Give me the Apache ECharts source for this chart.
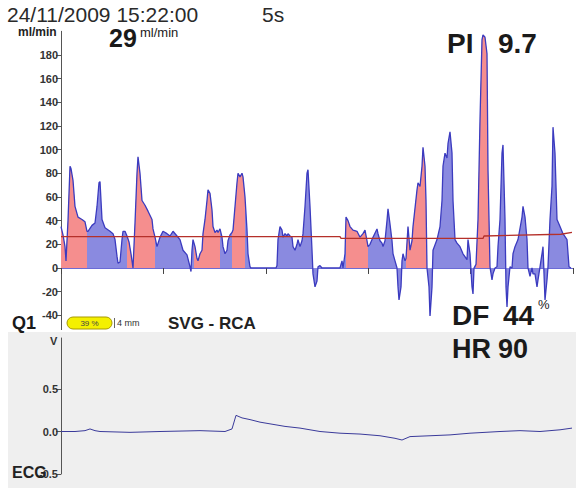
<!DOCTYPE html>
<html>
<head>
<meta charset="utf-8">
<script src="https://cdn.jsdelivr.net/npm/echarts@6/dist/echarts.min.js"></script>
<style>
  html, body { margin: 0; padding: 0; background: #fff; }
  #chart { width: 576px; height: 488px; }
</style>
</head>
<body>
<div id="chart"></div>
<script>
// flow samples (sample index at ~102.4 Hz, 5 s window) and flow in ml/min
const flowT = [
  0, 2, 4, 5, 7, 9, 10, 12, 14, 17,
  21, 24, 26, 27, 31, 34, 36, 38, 39, 41,
  44, 49, 52, 54, 56, 57, 59, 61, 62, 64,
  66, 68, 70, 72, 74, 76, 77, 79, 81, 84,
  87, 91, 92, 94, 96, 99, 102, 106, 109, 112,
  116, 119, 122, 126, 129, 130, 131, 132, 133, 134,
  136, 137, 139, 141, 142, 144, 146, 147, 149, 151,
  152, 154, 156, 157, 159, 161, 162, 164, 166, 167,
  169, 171, 172, 174, 176, 177, 179, 181, 182, 184,
  186, 187, 189, 190, 215, 216, 217, 219, 221, 222,
  224, 226, 227, 229, 231, 232, 234, 236, 237, 239,
  241, 242, 244, 246, 247, 249, 251, 252, 254, 256,
  257, 259, 261, 279, 281, 282, 284, 285, 287, 289,
  292, 296, 299, 302, 304, 306, 307, 309, 312, 316,
  317, 319, 321, 322, 324, 326, 327, 329, 331, 332,
  334, 336, 337, 338, 340, 341, 342, 344, 345, 347,
  349, 351, 352, 356, 357, 359, 361, 362, 364, 365,
  366, 368, 369, 371, 372, 376, 379, 381, 382, 384,
  386, 387, 389, 391, 392, 394, 396, 399, 402, 406,
  407, 409, 411, 412, 413, 415, 417, 419, 421, 422,
  424, 426, 427, 429, 431, 432, 434, 436, 437, 439,
  441, 442, 444, 445, 446, 447, 449, 451, 452, 454,
  457, 461, 462, 464, 466, 467, 469, 471, 472, 474,
  476, 477, 479, 481, 482, 484, 486, 487, 489, 491,
  492, 494, 496, 499, 502, 506, 508, 510
];
const flowV = [
  35, 28, 18, 6, 40, 86, 84, 74, 52, 43,
  41, 39, 31, 31, 36, 38, 52, 72, 73, 41,
  34, 31, 29, 24, 10, 4, 5, 24, 31, 31,
  27, 22, 12, 0, 38, 80, 94, 80, 57, 53,
  48, 41, 33, 26, 18, 26, 31, 29, 27, 31,
  27, 24, 15, 11, 1, -3, 15, 24, 21, 18,
  8, 6, 12, 15, 29, 41, 57, 66, 63, 49,
  35, 30, 32, 30, 33, 26, 18, 12, 15, 23,
  28, 30, 32, 52, 72, 80, 77, 80, 77, 60,
  32, 12, 1, 0, 0, 2, 24, 35, 32, 26,
  29, 27, 29, 27, 26, 18, 15, 20, 24, 18,
  23, 29, 52, 80, 83, 52, 15, -5, -16, -11,
  1, 2, 0, 0, 6, 0, 12, 43, 40, 35,
  32, 31, 26, 29, 32, 23, 18, 20, 26, 33,
  29, 23, 21, 18, 23, 40, 50, 37, 23, 12,
  6, 0, -16, -27, -16, 6, 12, 6, 8, 35,
  15, 23, 35, 66, 72, 69, 86, 102, 86, 57,
  0, -16, -41, -16, 15, 24, 35, 57, 86, 97,
  93, 105, 115, 97, 57, 24, 21, 18, 12, 7,
  24, 12, -16, -22, 0, 3, 41, 125, 193, 197,
  195, 181, 83, 1, -10, -5, 0, 1, 18, 41,
  97, 104, 41, -16, -33, -16, 1, 0, 12, 18,
  24, 43, 52, 43, 24, 0, -7, 0, -5, -5,
  -16, -10, 1, 12, 18, -27, -10, 1, 41, 69,
  119, 97, 41, 35, 29, 24, 1, 0
];
// stretches of the flow curve shaded red
const redRanges = [[0, 26], [66, 94], [133, 159], [171, 184], [285, 307], [345, 366], [415, 429]];

// mean flow line
const meanT = [0, 279, 280, 422, 423, 500, 511];
const meanV = [26.5, 26.5, 25, 25, 27, 28.5, 30];

// ECG trace (V)
const ecgT = [0, 14, 24, 29, 34, 39, 69, 99, 139, 164, 171, 175, 181, 189, 199, 209, 224, 239,
  259, 279, 299, 319, 334, 341, 349, 369, 389, 409, 439, 459, 479, 499, 511];
const ecgV = [0, 0, 0.01, 0.03, 0.01, 0, -0.01, 0, 0.01, 0, 0.03, 0.19, 0.16, 0.14, 0.11, 0.09, 0.06, 0.04,
  0, -0.02, -0.03, -0.05, -0.08, -0.1, -0.06, -0.05, -0.04, -0.02, 0, 0.01, 0, 0.02, 0.04];

const flowTicks = [-40, -20, 0, 20, 40, 60, 80, 100, 120, 140, 160, 180];
const ecgTicks = [-0.5, 0, 0.5];

const FONT = 'Liberation Sans, Arial, sans-serif';

const flowData = flowT.map((t, i) => [t, flowV[i]]);
const inRed = t => redRanges.some(r => t >= r[0] && t <= r[1]);
const redData = flowT.map((t, i) => [t, inRed(t) ? flowV[i] : null]);
const meanData = meanT.map((t, i) => [t, meanV[i]]);
const ecgData = ecgT.map((t, i) => [t, ecgV[i]]);

const chart = echarts.init(document.getElementById('chart'), null, { renderer: 'svg' });

function txt(text, x, y, font, extra) {
  return {
    type: 'text',
    z: 100,
    style: Object.assign({
      text: text, x: x, y: y, font: font, fill: '#1a1a1a',
      textVerticalAlign: 'middle'
    }, extra || {})
  };
}

const option = {
  animation: false,
  backgroundColor: '#fff',
  grid: [
    { left: 61, right: 3, top: 31.3, height: 284 },
    { left: 61, right: 3, top: 338, height: 136 }
  ],
  xAxis: [
    {
      gridIndex: 0, type: 'value', min: 0, max: 512, interval: 102.4,
      axisLine: { onZero: true, lineStyle: { color: '#6b6bd6' } },
      axisTick: { show: true, length: 6, lineStyle: { color: '#444' } },
      axisLabel: { show: false },
      splitLine: { show: false }
    },
    {
      gridIndex: 1, type: 'value', min: 0, max: 512, show: false
    }
  ],
  yAxis: [
    {
      gridIndex: 0, type: 'value', min: -40, max: 200, interval: 20,
      axisLine: { show: true, lineStyle: { color: '#555' } },
      axisTick: { show: true, length: 5, customValues: flowTicks, lineStyle: { color: '#555' } },
      axisLabel: {
        customValues: flowTicks, fontFamily: FONT, fontWeight: 'bold',
        fontSize: 11, color: '#333', margin: 3
      },
      splitLine: { show: false }
    },
    {
      gridIndex: 1, type: 'value', min: -0.5, max: 1.1, interval: 0.5,
      axisLine: { show: true, lineStyle: { color: '#555' } },
      axisTick: { show: true, length: 5, customValues: ecgTicks, lineStyle: { color: '#555' } },
      axisLabel: {
        customValues: ecgTicks, fontFamily: FONT, fontWeight: 'bold',
        fontSize: 11, color: '#333', margin: 3,
        formatter: v => v.toFixed(1)
      },
      splitLine: { show: false }
    }
  ],
  series: [
    {
      type: 'line', xAxisIndex: 0, yAxisIndex: 0, data: flowData, symbol: 'none', z: 2,
      lineStyle: { width: 0, opacity: 0 },
      areaStyle: { color: '#8a8ae0', opacity: 1 }
    },
    {
      type: 'line', xAxisIndex: 0, yAxisIndex: 0, data: redData, symbol: 'none', z: 3,
      lineStyle: { width: 0, opacity: 0 },
      areaStyle: { color: '#f58e8e', opacity: 1 }
    },
    {
      type: 'line', xAxisIndex: 0, yAxisIndex: 0, data: flowData, symbol: 'none', z: 4,
      lineStyle: { color: '#3b3bbf', width: 1.3 }
    },
    {
      type: 'line', xAxisIndex: 0, yAxisIndex: 0, data: meanData, symbol: 'none', z: 5,
      lineStyle: { color: '#b5302a', width: 1.3 }
    },
    {
      type: 'line', xAxisIndex: 1, yAxisIndex: 1, data: ecgData, symbol: 'none', z: 5,
      lineStyle: { color: '#3a3a9a', width: 1 }
    }
  ],
  graphic: [
    { type: 'rect', z: -10, shape: { x: 8, y: 332, width: 568, height: 156 }, style: { fill: '#efefef' } },
    { type: 'line', z: 10, shape: { x1: 61.5, y1: 315, x2: 61.5, y2: 330 }, style: { stroke: '#555', lineWidth: 1 } },
    txt('24/11/2009 15:22:00', 7, 14, 'normal 21px ' + FONT, { fill: '#2a2a2a' }),
    txt('5s', 262, 14, 'normal 21px ' + FONT, { fill: '#2a2a2a' }),
    txt('ml/min', 18, 32, 'bold 12px ' + FONT, { fill: '#222' }),
    txt('29', 109, 38, 'bold 25px ' + FONT),
    txt('ml/min', 140, 32, 'normal 13px ' + FONT),
    txt('PI', 447, 43, 'bold 28px ' + FONT),
    txt('9.7', 498, 43, 'bold 28px ' + FONT),
    txt('DF', 452, 315, 'bold 28px ' + FONT),
    txt('44', 503, 315, 'bold 28px ' + FONT),
    txt('%', 538, 304, 'normal 13px ' + FONT),
    txt('HR', 452, 349, 'bold 27px ' + FONT),
    txt('90', 498, 349, 'bold 27px ' + FONT),
    txt('Q1', 12, 323, 'bold 18px ' + FONT),
    {
      type: 'rect', z: 90, shape: { x: 67, y: 317, width: 45, height: 12, r: 6 },
      style: { fill: '#f4f000', stroke: '#a89a00', lineWidth: 1 }
    },
    txt('39 %', 89.5, 323, 'normal 8px ' + FONT, { fill: '#444', textAlign: 'center' }),
    { type: 'line', z: 90, shape: { x1: 114.5, y1: 318, x2: 114.5, y2: 328 }, style: { stroke: '#666', lineWidth: 1 } },
    txt('4 mm', 117, 323, 'normal 9px ' + FONT, { fill: '#333' }),
    txt('SVG - RCA', 168, 323, 'bold 17px ' + FONT, { fill: '#222' }),
    txt('V', 50, 341, 'bold 11px ' + FONT, { fill: '#333' }),
    txt('ECG', 12, 472, 'bold 16px ' + FONT, { fill: '#222' })
  ]
};

chart.setOption(option);
</script>
</body>
</html>
